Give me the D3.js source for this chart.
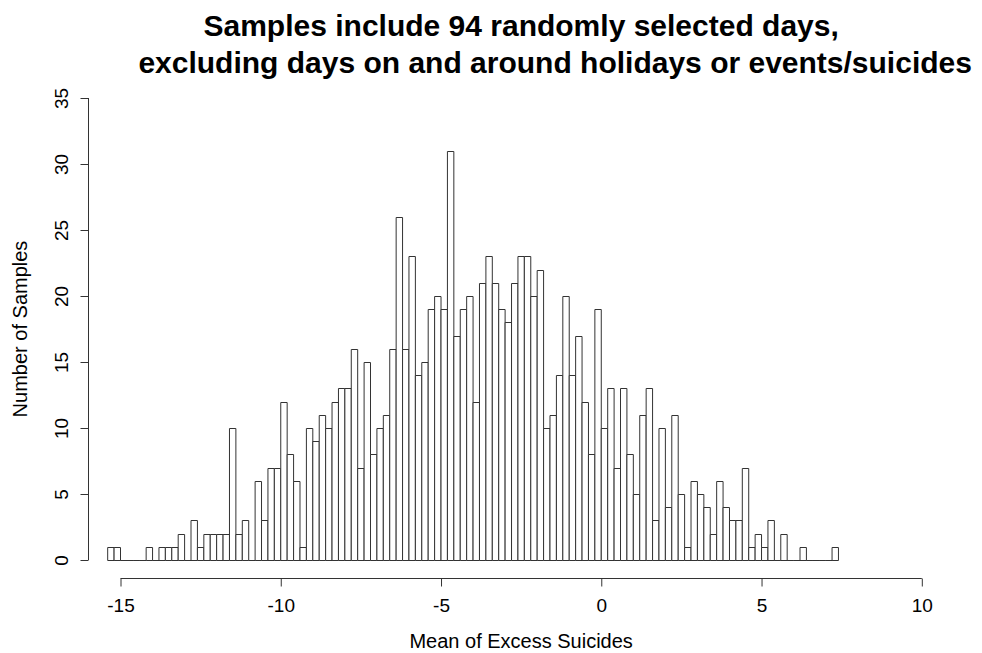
<!DOCTYPE html>
<html>
<head>
<meta charset="utf-8">
<script src="https://cdn.jsdelivr.net/npm/d3@7"></script>
<style>
  body { margin: 0; background: #fff; }
  svg { display: block; }
</style>
</head>
<body>
<div id="chart"></div>
<script>
// histogram breaks: first left edge and bin width, counts
var breakStart = -15.4;
var binWidth = 0.2;
var counts = [
  1, 1, 0, 0, 0, 0, 1, 0, 1, 1,
  1, 2, 0, 3, 1, 2, 2, 2, 2, 10,
  2, 3, 0, 6, 3, 7, 7, 12, 8, 6,
  1, 10, 9, 11, 10, 12, 13, 13, 16, 7,
  15, 8, 10, 11, 16, 26, 16, 23, 14, 15,
  19, 20, 19, 31, 17, 19, 20, 12, 21, 23,
  21, 19, 18, 21, 23, 23, 20, 22, 10, 11,
  14, 20, 14, 17, 12, 8, 19, 10, 13, 7,
  13, 8, 5, 11, 13, 3, 10, 4, 11, 5,
  1, 6, 5, 4, 2, 6, 4, 3, 3, 7,
  1, 2, 1, 3, 0, 2, 0, 0, 1, 0,
  0, 0, 0, 1
];
var xTicks = [-15, -10, -5, 0, 5, 10];
var yTicks = [0, 5, 10, 15, 20, 25, 30, 35];

var titleLines = [
  "Samples include 94 randomly selected days,",
  "excluding days on and around holidays or events/suicides"
];
var xLabel = "Mean of Excess Suicides";
var yLabel = "Number of Samples";

var width = 982, height = 653;
var font = "'Liberation Sans', Arial, Helvetica, sans-serif";
var ink = "#333";
var tickSize = "19px";
var labelSize = "20px";

var bins = counts.map(function(c, i) {
  var x0 = +(breakStart + i * binWidth).toFixed(1);
  return {x0: x0, x1: +(x0 + binWidth).toFixed(1), length: c};
});

var svg = d3.select("#chart").append("svg")
  .attr("width", width)
  .attr("height", height)
  .style("font-family", font);

var x = d3.scaleLinear()
  .domain([-15, 10])
  .range([120.5, 921.8]);

var y = d3.scaleLinear()
  .domain([0, 35])
  .range([560, 98]);

var plotLeft = x(-16);
var plotCenter = (x(-16) + x(11)) / 2;

// bars as closed paths so empty bins still show as a flat line
svg.append("g")
  .attr("class", "bars")
  .selectAll("path")
  .data(bins)
  .enter().append("path")
  .attr("d", function(d) {
    var b = y(0) + 0.5, t = Math.round(y(d.length)) + 0.5;
    return "M" + x(d.x0) + "," + b + "V" + t + "H" + x(d.x1) + "V" + b + "Z";
  })
  .attr("fill", "#fff")
  .attr("stroke", ink)
  .attr("stroke-width", 1);

// x axis
var gx = svg.append("g")
  .attr("transform", "translate(0," + 578.5 + ")")
  .call(d3.axisBottom(x).tickValues(xTicks).tickSize(8).tickPadding(12));

gx.select(".domain").attr("stroke", ink).attr("d", "M" + x(-15) + ",0H" + x(10));
gx.selectAll(".tick line").attr("stroke", ink);
gx.selectAll(".tick text")
  .attr("fill", "#000")
  .style("font-size", tickSize)
  .style("font-family", font)
  .text(function(d) { return d < 0 ? "-" + Math.abs(d) : d; });

// y axis, labels turned like R's default
var gy = svg.append("g")
  .attr("transform", "translate(" + (Math.round(plotLeft) + 0.5) + ",0)")
  .call(d3.axisLeft(y).tickValues(yTicks).tickSize(8));

gy.select(".domain").attr("stroke", ink).attr("d", "M0," + y(0) + "V" + y(35));
gy.selectAll(".tick line").attr("stroke", ink);
gy.selectAll(".tick text")
  .attr("fill", "#000")
  .style("font-size", tickSize)
  .style("font-family", font)
  .attr("text-anchor", "middle")
  .attr("transform", "rotate(-90)")
  .attr("x", 0)
  .attr("y", -21)
  .attr("dy", 0);

// titles
svg.append("g")
  .selectAll("text")
  .data(titleLines)
  .enter().append("text")
  .attr("x", function(d, i) { return i === 0 ? plotCenter : plotCenter + 34; })
  .attr("y", function(d, i) { return 36 + i * 37; })
  .attr("text-anchor", "middle")
  .style("font-size", "30px")
  .style("font-weight", "bold")
  .text(function(d) { return d; });

svg.append("text")
  .attr("x", plotCenter)
  .attr("y", 648)
  .attr("text-anchor", "middle")
  .style("font-size", labelSize)
  .text(xLabel);

svg.append("text")
  .attr("transform", "translate(27," + ((y(0) + y(35)) / 2) + ") rotate(-90)")
  .attr("text-anchor", "middle")
  .style("font-size", labelSize)
  .text(yLabel);
</script>
</body>
</html>
